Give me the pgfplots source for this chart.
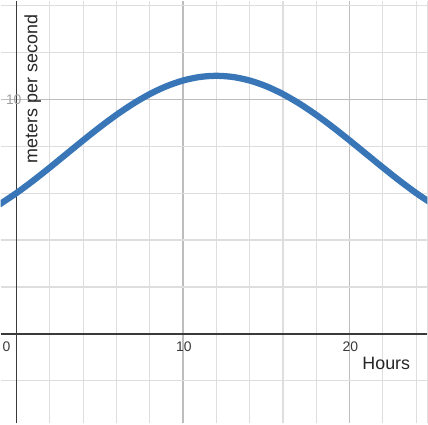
\documentclass[border=0pt]{standalone}
\usepackage{pgfplots}
\pgfplotsset{compat=1.18}
\usepackage{fontspec}
\setmainfont{Liberation Sans}
\definecolor{desblue}{HTML}{3876B8}
\definecolor{minorgrid}{HTML}{DEDEDE}
\definecolor{majorgrid}{HTML}{BDBDBD}
\definecolor{axcol}{HTML}{3A3A3A}
\begin{document}
\begin{tikzpicture}
\begin{axis}[
  width=428bp, height=424bp, scale only axis,
  xmin=-0.94, xmax=24.66, ymin=-3.81, ymax=14.2,
  axis lines=middle,
  axis line style={-, axcol, line width=1.5pt},
  major tick length=0pt, minor tick length=0pt,
  xtick={10,20}, ytick={10},
  minor xtick={2,4,6,8,12,14,16,18,22,24},
  minor ytick={-2,2,4,6,8,12,14},
  xticklabels={}, yticklabels={},
  grid=both,
  major grid style={majorgrid, line width=1.2pt},
  minor grid style={minorgrid, line width=1.1pt},
  clip=true,
]
\draw[gray!70, line width=1pt] (rel axis cs:1,0) -- (rel axis cs:1,1);
\addplot[desblue, line width=6.3pt, smooth, line cap=round] coordinates {
(-1,5.5240) (0,6.0) (1,6.5266) (2,7.0878) (3,7.6667) (4,8.2455) (5,8.8068)
(6,9.3333) (7,9.8093) (8,10.2202) (9,10.5535) (10,10.7990) (11,10.9494)
(12,11.0) (13,10.9494) (14,10.7990) (15,10.5535) (16,10.2202) (17,9.8093)
(18,9.3333) (19,8.8068) (20,8.2455) (21,7.6667) (22,7.0878) (23,6.5266)
(24,6.0) (25,5.5240)
};
\node[font=\fontsize{14}{16}\selectfont, text=axcol, anchor=base] at (axis cs:-0.6,-0.77) {0};
\node[font=\fontsize{14}{16}\selectfont, text=axcol, anchor=base] at (axis cs:10.05,-0.77) {10};
\node[font=\fontsize{14}{16}\selectfont, text=axcol, anchor=base] at (axis cs:20.05,-0.77) {20};
\node[font=\fontsize{14}{16}\selectfont, text=gray!75, anchor=center, inner sep=0pt] at (axis cs:-0.16,10) {10};
\node[font=\fontsize{18}{20}\selectfont, text=black!85, anchor=base] at (axis cs:22.2,-1.53) {Hours};
\node[font=\fontsize{18}{20}\selectfont, text=black!85, rotate=90, anchor=east, inner sep=0pt] at (axis cs:0.98,13.6) {meters per second};
\end{axis}
\end{tikzpicture}
\end{document}
